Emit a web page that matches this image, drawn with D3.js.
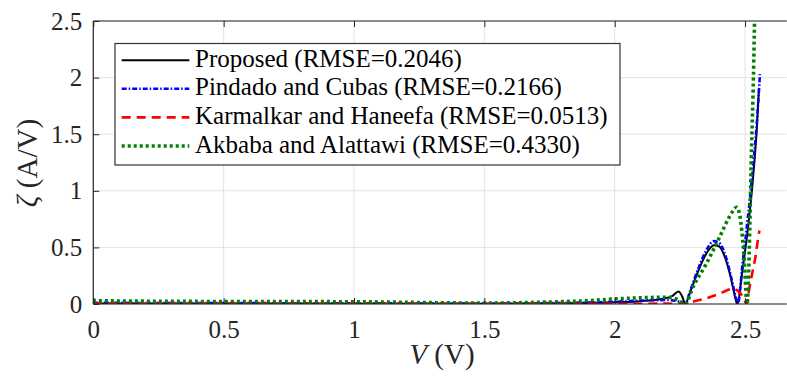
<!DOCTYPE html>
<html><head><meta charset="utf-8">
<script src="https://cdn.jsdelivr.net/npm/d3@7"></script>
</head><body style="margin:0">
<svg id="c" width="787" height="379" font-family="Liberation Serif"></svg>
<script>
// ---- data ----
const xTicks = [0, 0.5, 1, 1.5, 2, 2.5];
const yTicks = [0, 0.5, 1, 1.5, 2, 2.5];

const propV = [0, 0.5, 1.0, 1.5, 1.8, 2.0, 2.1, 2.18, 2.22, 2.245, 2.26, 2.27, 2.29, 2.32, 2.35, 2.38, 2.40, 2.42, 2.44, 2.455, 2.465, 2.47, 2.49, 2.51, 2.53, 2.545, 2.553];
const propZ = [0.005, 0.004, 0.003, 0.002, 0.006, 0.015, 0.025, 0.045, 0.07, 0.11, 0.06, 0.0, 0.11, 0.29, 0.44, 0.52, 0.51, 0.43, 0.28, 0.13, 0.03, 0.0, 0.3, 0.65, 1.1, 1.55, 1.9];

const pindV = [0, 0.5, 1.0, 1.5, 1.8, 2.0, 2.1, 2.2, 2.25, 2.27, 2.29, 2.32, 2.35, 2.38, 2.40, 2.42, 2.44, 2.455, 2.465, 2.472, 2.49, 2.51, 2.53, 2.545, 2.557];
const pindZ = [0.01, 0.008, 0.006, 0.004, 0.01, 0.02, 0.03, 0.035, 0.02, 0.0, 0.12, 0.31, 0.47, 0.555, 0.54, 0.46, 0.3, 0.15, 0.05, 0.0, 0.35, 0.75, 1.2, 1.6, 2.03];

const karmV = [0, 0.5, 1.0, 1.5, 2.0, 2.2, 2.27, 2.3, 2.35, 2.4, 2.43, 2.455, 2.47, 2.49, 2.507, 2.515, 2.53, 2.54, 2.548, 2.555];
const karmZ = [0.003, 0.002, 0.002, 0.001, 0.002, 0.003, 0.0, 0.02, 0.05, 0.09, 0.12, 0.137, 0.12, 0.07, 0.0, 0.12, 0.3, 0.42, 0.55, 0.65];

const akbaV = [0, 0.005, 0.2, 0.5, 1.0, 1.3, 1.5, 1.7, 1.9, 2.0, 2.1, 2.2, 2.24, 2.27, 2.3, 2.35, 2.4, 2.44, 2.468, 2.48, 2.495, 2.508, 2.51, 2.525, 2.532, 2.537];
const akbaZ = [0.04, 0.03, 0.025, 0.022, 0.02, 0.012, 0.008, 0.015, 0.03, 0.045, 0.055, 0.06, 0.04, 0.0, 0.15, 0.35, 0.58, 0.77, 0.855, 0.78, 0.45, 0.0, 0.05, 1.4, 2.0, 2.6];

const seriesNames = ["Proposed (RMSE=0.2046)", "Pindado and Cubas (RMSE=0.2166)", "Karmalkar and Haneefa (RMSE=0.0513)", "Akbaba and Alattawi (RMSE=0.4330)"];

// ---- layout ----
const L = 93.3, R = 786.8, T = 21, B = 304;
const x = d3.scaleLinear().domain([0, 2.66]).range([L, R]);
const y = d3.scaleLinear().domain([0, 2.5]).range([B, T]);
const FONT = "Liberation Serif";
const axC = "#262626";

const svg = d3.select("#c");

// grid
svg.append("g").selectAll("line").data(xTicks).join("line")
  .attr("x1", d => x(d)).attr("x2", d => x(d)).attr("y1", T).attr("y2", B)
  .attr("stroke", "#e3e3e3").attr("stroke-width", 1);
svg.append("g").selectAll("line").data(yTicks).join("line")
  .attr("x1", L).attr("x2", R).attr("y1", d => y(d)).attr("y2", d => y(d))
  .attr("stroke", "#e3e3e3").attr("stroke-width", 1);

// series
const styles = [
  {color: "#000000", dash: null, w: 2},
  {color: "#0000ff", dash: "5,2,1.5,2", w: 2.6},
  {color: "#ff0000", dash: "9,6", w: 2.6},
  {color: "#008000", dash: "3,3", w: 3.6}
];
const data = [
  propV.map((v, i) => [v, propZ[i]]),
  pindV.map((v, i) => [v, pindZ[i]]),
  karmV.map((v, i) => [v, karmZ[i]]),
  akbaV.map((v, i) => [v, akbaZ[i]])
];
svg.append("defs").append("clipPath").attr("id", "plotclip").append("rect")
  .attr("x", L).attr("y", T).attr("width", R - L).attr("height", B - T);
const line = d3.line().x(d => x(d[0])).y(d => y(d[1])).curve(d3.curveMonotoneX);
const plot = svg.append("g").attr("clip-path", "url(#plotclip)");
data.forEach((d, i) => {
  plot.append("path").datum(d).attr("d", line)
    .attr("fill", "none").attr("stroke", styles[i].color)
    .attr("stroke-width", styles[i].w)
    .attr("stroke-dasharray", styles[i].dash)
    .attr("stroke-linejoin", "round");
});

// axes (MATLAB style, ticks inward)
const xa = svg.append("g").attr("transform", `translate(0,${B})`)
  .call(d3.axisBottom(x).tickValues(xTicks).tickSize(-6).tickFormat(d3.format("~g")));
const ya = svg.append("g").attr("transform", `translate(${L},0)`)
  .call(d3.axisLeft(y).tickValues(yTicks).tickSize(-6).tickFormat(d3.format("~g")));
const xt = svg.append("g").attr("transform", `translate(0,${T})`)
  .call(d3.axisTop(x).tickValues(xTicks).tickSize(-6).tickFormat(""));
[xa, ya, xt].forEach(a => {
  a.select(".domain").remove();
  a.attr("font-family", FONT).attr("font-size", 25);
  a.selectAll(".tick line").attr("stroke", axC);
});
xt.selectAll(".tick text").remove();
svg.append("line").attr("x1", L).attr("x2", R).attr("y1", B).attr("y2", B).attr("stroke", axC).attr("stroke-width", 1.2);
svg.append("line").attr("x1", L).attr("x2", R).attr("y1", T).attr("y2", T).attr("stroke", axC).attr("stroke-width", 1.2);
svg.append("line").attr("x1", L).attr("x2", L).attr("y1", T).attr("y2", B).attr("stroke", axC).attr("stroke-width", 1.2);

xa.selectAll(".tick text").attr("fill", axC).attr("font-family", FONT)
  .style("font-family", FONT).attr("y", 34).attr("dy", null);
ya.selectAll(".tick text").attr("fill", axC).attr("font-family", FONT)
  .style("font-family", FONT).attr("x", -11).attr("dy", "0.32em");

// axis labels
const xl = svg.append("text").attr("x", 442).attr("y", 364).attr("text-anchor", "middle")
  .attr("font-family", FONT).style("font-family", FONT).attr("font-size", 29).attr("fill", axC);
xl.append("tspan").attr("font-style", "italic").text("V");
xl.append("tspan").text(" (V)");
const yl = svg.append("text").attr("transform", "translate(37,163) rotate(-90)").attr("text-anchor", "middle")
  .attr("font-family", FONT).style("font-family", FONT).attr("font-size", 29).attr("fill", axC);
yl.append("tspan").attr("font-style", "italic").text("ζ");
yl.append("tspan").text(" (A/V)");

// legend
const lg = svg.append("g");
lg.append("rect").attr("x", 115).attr("y", 43.5).attr("width", 505).attr("height", 121.5)
  .attr("fill", "#fff").attr("stroke", "#333").attr("stroke-width", 1.2);
seriesNames.forEach((name, i) => {
  const by = 66.7 + i * 28.6;
  lg.append("line").attr("x1", 121.7).attr("x2", 189.3).attr("y1", by - 6.5).attr("y2", by - 6.5)
    .attr("stroke", styles[i].color).attr("stroke-width", styles[i].w)
    .attr("stroke-dasharray", styles[i].dash);
  lg.append("text").attr("x", 195).attr("y", by).attr("font-family", FONT).style("font-family", FONT)
    .attr("font-size", 25).attr("fill", "#000").text(name);
});
</script>
</body></html>
